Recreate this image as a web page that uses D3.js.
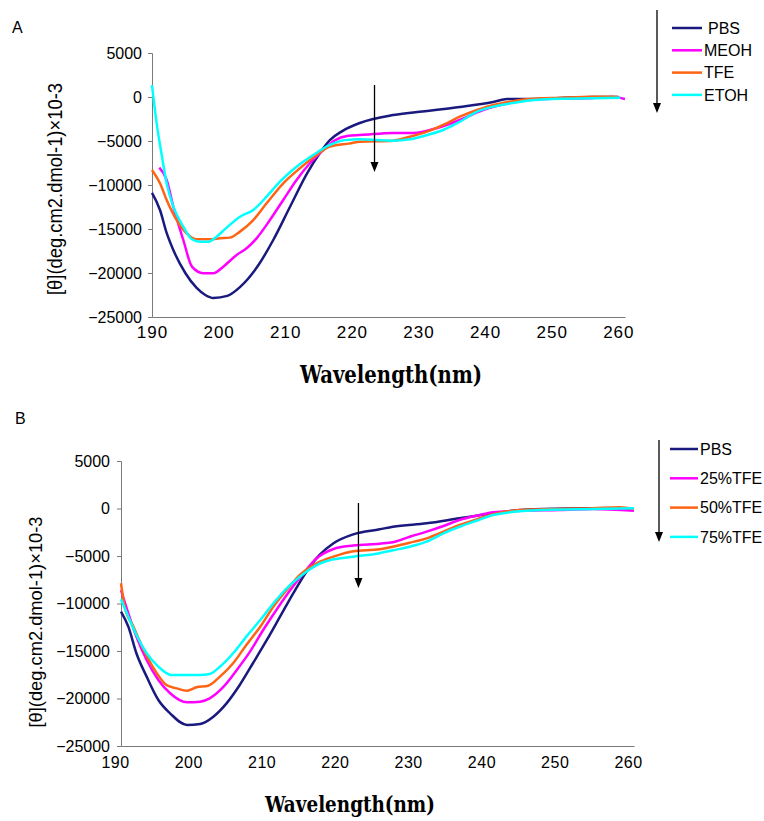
<!DOCTYPE html>
<html>
<head>
<meta charset="utf-8">
<script src="https://cdn.jsdelivr.net/npm/d3@7"></script>
<style>
  body { margin: 0; background: #fff; }
  text { font-family: "Liberation Sans", Arial, sans-serif; fill: #000; }
  .title { font-family: "DejaVu Serif", serif; font-stretch: condensed; font-weight: bold; }
</style>
</head>
<body>
<div id="chart"></div>
<script>
// Panel A: solvents, [wavelength nm, ellipticity]
const pbsA = [[190,-10900],[191.2,-12840],[192.2,-15450],[193.2,-17390],[195,-20000],[196.7,-21700],[198,-22500],[199.2,-22840],[201.3,-22600],[203.2,-21600],[205.8,-19300],[208.2,-16250],[210.7,-12500],[213.3,-8640],[215.2,-6360],[216.7,-4900],[218.5,-3900],[221.2,-2950],[226.2,-2050],[231.3,-1590],[236.2,-1140],[241.2,-570],[243.3,-230],[246.3,-230],[251.3,-110],[256.2,0],[260,0]];
const meohA = [[191.1,-8030],[192.2,-9430],[193.2,-12460],[194.7,-16250],[196,-19280],[197.7,-20030],[199.2,-20030],[200.7,-19280],[202.7,-17950],[204.2,-17190],[205.7,-16060],[207.7,-13980],[209.7,-11700],[211.7,-9430],[213.7,-7530],[215.7,-6020],[217.5,-4900],[219.5,-4400],[221.2,-4320],[224.5,-4150],[226.2,-4090],[229.2,-4090],[232.8,-3520],[236.2,-2610],[239.7,-1480],[243.7,-680],[248.7,-230],[256.2,-110],[259.2,0],[261,-230]];
const tfeA = [[190,-8300],[191.2,-9800],[192.2,-11700],[193.7,-13980],[195.2,-15490],[196.7,-16170],[198.7,-16170],[200.2,-16060],[201.7,-15980],[203.2,-15300],[205.2,-13980],[207.2,-12080],[209.7,-9810],[212.2,-8100],[214.7,-6590],[216.7,-5640],[219.7,-5270],[221.2,-5080],[226.2,-4960],[228.7,-4510],[231.3,-3940],[233.7,-3180],[236.2,-2240],[238.8,-1480],[241.2,-910],[243.8,-530],[246.3,-260],[251.3,-80],[256.2,40],[258.8,40],[260,0]];
const etohA = [[190,1360],[190.7,-2990],[191.5,-6780],[192.2,-9810],[193.2,-12460],[194.7,-14740],[196,-16170],[197.2,-16440],[198.5,-16440],[199.7,-15870],[201.2,-14850],[203.2,-13600],[205.2,-12840],[207.2,-11330],[209.2,-9620],[211.7,-7920],[214.2,-6590],[216.7,-5450],[219,-4900],[221.2,-4810],[226.2,-4960],[228.7,-4810],[231.3,-4320],[233.7,-3750],[236.2,-2810],[238.8,-1670],[241.2,-1100],[243.8,-720],[246.3,-420],[251.3,-190],[256.2,-150],[260.3,-80]];

// Panel B: TFE concentrations
const pbsB = [[190,-10860],[191,-12440],[192.1,-15240],[193.5,-17700],[195.1,-20160],[196.7,-21560],[199,-22790],[200.8,-22680],[202.6,-21910],[204.4,-20510],[206.2,-18580],[208,-16290],[209.9,-13840],[211.7,-11390],[213.5,-8930],[215.3,-6650],[217.1,-4890],[219,-3660],[221.7,-2720],[225.3,-2190],[227.1,-1920],[231.7,-1560],[236.2,-1030],[240.8,-510],[244.4,-160],[247.6,-50],[254.4,20],[259.9,0]];
const tfe25B = [[190,-8580],[191,-11030],[192.1,-13490],[193.5,-15950],[195.1,-18050],[196.7,-19450],[199,-20400],[200.8,-20330],[202.1,-19980],[204,-18760],[205.8,-17000],[207.6,-15070],[209.4,-12790],[211.2,-10680],[213.1,-8580],[214.9,-6820],[216.7,-5240],[219,-4260],[221.7,-3900],[225.3,-3700],[227.1,-3550],[229.4,-2970],[231.7,-2440],[234,-1840],[236.2,-1210],[238.5,-760],[240.8,-400],[244,-260],[249.9,-160],[254.4,-50],[260,-230]];
const tfe50B = [[190,-7870],[190.5,-10330],[191.7,-12440],[193,-14720],[194.6,-17000],[196.2,-18580],[197.6,-18930],[199,-19180],[200.3,-18820],[201.9,-18650],[203.5,-17700],[205.3,-16290],[207.1,-14370],[209,-12440],[210.8,-10330],[212.6,-8580],[214.4,-7000],[216.7,-5770],[219,-5070],[221.7,-4500],[225.3,-4300],[227.1,-4020],[229.4,-3600],[231.7,-3140],[234,-2440],[236.2,-1740],[238.5,-1140],[240.8,-610],[243.1,-260],[247.6,-90],[254.4,20],[258,130],[260,-50]];
const tfe75B = [[190,-9560],[191,-11390],[192.1,-13320],[193.5,-15240],[195.1,-16650],[196.9,-17530],[199,-17530],[200.8,-17530],[202.1,-17420],[203.5,-16650],[205.3,-15240],[207.1,-13490],[209,-11740],[210.8,-9980],[212.6,-8400],[214.4,-7180],[216.7,-5950],[219,-5350],[221.7,-5070],[225.3,-4700],[227.1,-4400],[229.4,-4020],[231.7,-3490],[234,-2610],[236.2,-1920],[238.5,-1290],[240.8,-680],[243.1,-400],[247.6,-160],[254.4,-50],[260,20]];

const namesA = ["PBS", "MEOH", "TFE", "ETOH"];
const namesB = ["PBS", "25%TFE", "50%TFE", "75%TFE"];
const colors = ["#1a1a7e", "#ff00ff", "#ff6314", "#00ffff"];
const xTicks = [190, 200, 210, 220, 230, 240, 250, 260];
const yTicks = [5000, 0, -5000, -10000, -15000, -20000, -25000];
const yLabel = "[\u03b8](deg.cm2.dmol-1)\u00d710-3";

const svg = d3.select("#chart").append("svg")
    .attr("width", 764)
    .attr("height", 821);

// draws one panel; geometry is passed in
function drawPanel(p) {
    const x = d3.scaleLinear().domain(p.xDomain).range(p.xRange);
    const y = d3.scaleLinear().domain([-25000, 5000]).range(p.yRange);
    const g = svg.append("g");

    // y axis with outward ticks
    const yAxis = g.append("g")
        .attr("transform", `translate(${p.xRange[0]},0)`)
        .call(d3.axisLeft(y).tickValues(yTicks).tickSize(4).tickPadding(p.yPad).tickFormat(d3.format("d")));
    yAxis.selectAll("path, line").attr("stroke", "#7a7a7a");
    yAxis.selectAll("text").style("font-size", p.yFont + "px").attr("fill", "#000");

    // x axis: only a line and labels
    const xAxis = g.append("g")
        .attr("transform", `translate(0,${p.yRange[0]})`)
        .call(d3.axisBottom(x).tickValues(xTicks).tickSize(0).tickPadding(p.xPad).tickFormat(d3.format("d")));
    xAxis.select("path").attr("stroke", "#7a7a7a");
    xAxis.selectAll("text")
        .style("font-size", p.xFont + "px")
        .style("letter-spacing", p.xSpacing + "px")
        .attr("dx", p.xDx)
        .attr("fill", "#000");

    // curves
    const line = d3.line().x(d => x(d[0])).y(d => y(d[1])).curve(d3.curveMonotoneX);
    p.series.forEach((s, i) => {
        g.append("path")
            .attr("d", line(s))
            .attr("fill", "none")
            .attr("stroke", colors[i])
            .attr("stroke-width", 2.5)
            .attr("stroke-linejoin", "round");
    });

    // axis titles
    g.append("text")
        .attr("transform", `translate(${p.yLabelPos[0]},${p.yLabelPos[1]}) rotate(-90)`)
        .attr("text-anchor", "middle")
        .attr("dy", "0.35em")
        .attr("textLength", p.yLabelLen)
        .attr("lengthAdjust", "spacingAndGlyphs")
        .style("font-size", p.yLabelFont + "px")
        .text(yLabel);

    g.append("text")
        .attr("class", "title")
        .attr("transform", `translate(${p.titlePos[0]},${p.titlePos[1]}) scale(1,1.12)`)
        .attr("text-anchor", "middle")
        .attr("textLength", p.titleLen)
        .attr("lengthAdjust", "spacingAndGlyphs")
        .style("font-size", p.titleFont + "px")
        .text("Wavelength(nm)");

    // panel letter
    g.append("text")
        .attr("x", p.letterPos[0]).attr("y", p.letterPos[1])
        .style("font-size", "16px")
        .text(p.letter);

    // arrow inside the plot
    arrow(g, x(p.arrowNm), p.arrowY[0], p.arrowY[1]);

    // legend with arrow
    arrow(g, p.legArrow[0], p.legArrow[1], p.legArrow[2]);
    const leg = g.selectAll("g.leg")
        .data(p.names)
        .enter()
        .append("g")
        .attr("transform", (d, i) => `translate(${p.legX},${p.legY + i * p.legStep})`);
    leg.append("line")
        .attr("x1", 0).attr("x2", p.legLen)
        .attr("stroke", (d, i) => colors[i])
        .attr("stroke-width", 2.5);
    leg.append("text")
        .attr("x", (d, i) => p.legLen + 2 + (i === 0 ? p.firstShift : 0))
        .attr("dy", "0.35em")
        .style("font-size", "16px")
        .text(d => d);
}

function arrow(g, x, y1, y2) {
    g.append("line")
        .attr("x1", x).attr("x2", x)
        .attr("y1", y1).attr("y2", y2 - 8)
        .attr("stroke", "#000")
        .attr("stroke-width", 1.3);
    g.append("path")
        .attr("d", `M${x - 4},${y2 - 10}L${x + 4},${y2 - 10}L${x},${y2}Z`)
        .attr("fill", "#000");
}

drawPanel({
    series: [pbsA, meohA, tfeA, etohA], names: namesA,
    xDomain: [190, 261], xRange: [152, 625], yRange: [317, 53],
    yPad: 6, yFont: 16, xPad: 9, xFont: 17, xSpacing: 1, xDx: 0,
    yLabelPos: [55, 189], yLabelLen: 212, yLabelFont: 21,
    titlePos: [391, 383], titleLen: 182, titleFont: 22,
    letter: "A", letterPos: [12, 33],
    arrowNm: 223.4, arrowY: [85, 172],
    legArrow: [657, 10, 113],
    legX: 672, legY: 28, legStep: 22.3, legLen: 30, firstShift: 4
});

drawPanel({
    series: [pbsB, tfe25B, tfe50B, tfe75B], names: namesB,
    xDomain: [190, 260], xRange: [121, 634], yRange: [746, 461],
    yPad: 7, yFont: 16, xPad: 11, xFont: 16, xSpacing: 0.5, xDx: -6,
    yLabelPos: [35, 622], yLabelLen: 211, yLabelFont: 19,
    titlePos: [350, 812], titleLen: 170, titleFont: 20,
    letter: "B", letterPos: [15, 424],
    arrowNm: 222.4, arrowY: [503, 588],
    legArrow: [659, 440, 542],
    legX: 670, legY: 449, legStep: 29.3, legLen: 28, firstShift: 0
});
</script>
</body>
</html>
